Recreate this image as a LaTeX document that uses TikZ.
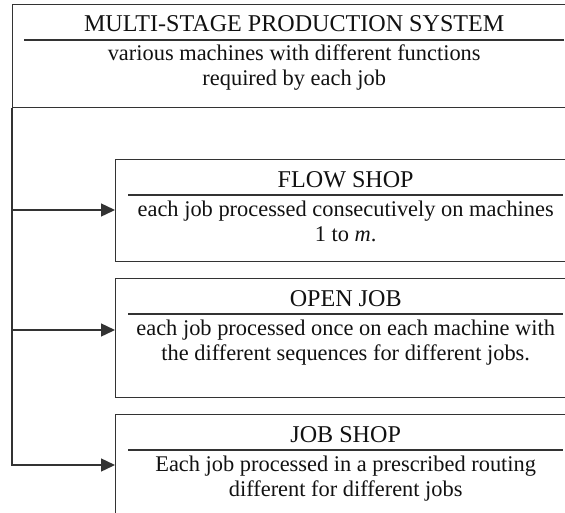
\documentclass[tikz,border=0pt]{standalone}
\usepackage{fontspec}
\setmainfont{Liberation Serif}
\usetikzlibrary{arrows.meta,calc}
\definecolor{linegray}{HTML}{333333}
\definecolor{textblack}{HTML}{111111}
\begin{document}
\begin{tikzpicture}[x=1pt,y=-1pt,
  box/.style={draw=linegray, line width=1.4pt, anchor=north west, inner sep=0pt},
  txt/.style={font=\fontsize{22.4}{25}\selectfont, text=textblack, anchor=base, inner sep=0pt},
  ttl/.style={font=\fontsize{24.1}{25}\selectfont, text=textblack, anchor=base, inner sep=0pt},
  rulel/.style={draw=linegray, line width=1.2pt},
  arr/.style={draw=linegray, line width=1.4pt, -{Triangle[length=14pt,width=13pt]}}]
\useasboundingbox (0,0) rectangle (565,512);
\clip (0,0) rectangle (565,512);
% boxes
\node[box, minimum width=563pt, minimum height=103pt] (sys) at (12,4) {};
\node[box, minimum width=460pt, minimum height=102pt] (flow) at (115,159) {};
\node[box, minimum width=460pt, minimum height=119pt] (open) at (115,278) {};
\node[box, minimum width=460pt, minimum height=130pt] (job) at (115,414) {};
% top box
\node[ttl] (sysT) at ($(sys.north)+(0,27)$) {MULTI-STAGE PRODUCTION SYSTEM};
\draw[rulel] ($(sys.north west)+(12,36)$) -- ($(sys.north east)+(-12,36)$);
\node[txt] (sysA) at ($(sys.north)+(0,56)$) {various machines with different functions};
\node[txt] (sysB) at ($(sys.north)+(0,81)$) {required by each job};
% flow shop
\node[ttl] (flowT) at ($(flow.north)+(0,28)$) {FLOW SHOP};
\draw[rulel] ($(flow.north west)+(13,36)$) -- ($(flow.north east)+(-13,36)$);
\node[txt] (flowA) at ($(flow.north)+(0,57)$) {each job processed consecutively on machines};
\node[txt] (flowB) at ($(flow.north)+(0,82)$) {1 to \textit{m}.};
% open job
\node[ttl] (openT) at ($(open.north)+(0,28)$) {OPEN JOB};
\draw[rulel] ($(open.north west)+(13,36)$) -- ($(open.north east)+(-13,36)$);
\node[txt] (openA) at ($(open.north)+(0,57)$) {each job processed once on each machine with};
\node[txt] (openB) at ($(open.north)+(0,82)$) {the different sequences for different jobs.};
% job shop
\node[ttl] (jobT) at ($(job.north)+(0,28)$) {JOB SHOP};
\draw[rulel] ($(job.north west)+(13,36)$) -- ($(job.north east)+(-13,36)$);
\node[txt] (jobA) at ($(job.north)+(0,57)$) {Each job processed in a prescribed routing};
\node[txt] (jobB) at ($(job.north)+(0,82)$) {different for different jobs};
% connectors
\coordinate (inFlow) at ($(flow.north west)+(0,51)$);
\coordinate (inOpen) at ($(open.north west)+(0,52)$);
\coordinate (inJob) at ($(job.north west)+(0,51)$);
\draw[arr] (sys.south west) |- (inFlow);
\draw[arr] (sys.south west) |- (inOpen);
\draw[arr] (sys.south west) |- (inJob);
\end{tikzpicture}
\end{document}
